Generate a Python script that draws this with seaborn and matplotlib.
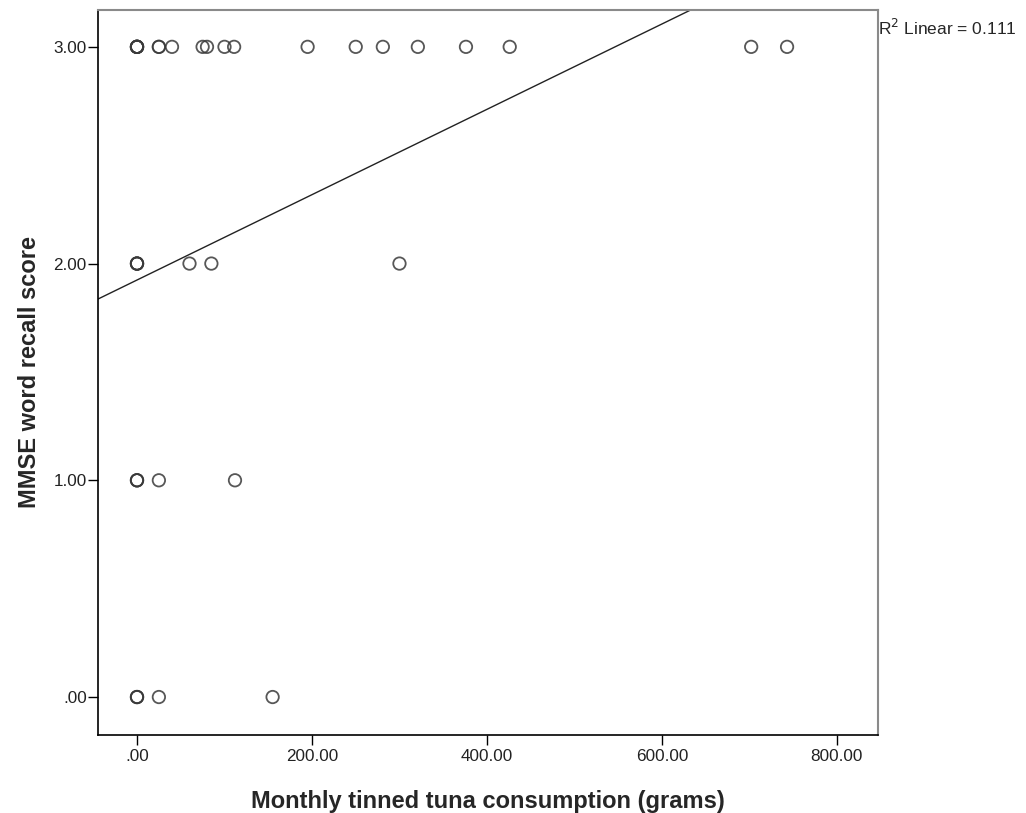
import numpy as np
import pandas as pd
import matplotlib
matplotlib.use('Agg')
import matplotlib.pyplot as plt
import seaborn as sns

# tuna consumption (grams/month) for each recall score, repeated values are overlapping circles
tuna_3 = [0, 0, 0, 0, 0, 0, 25, 25, 40, 75, 80, 100, 111, 195, 250, 281, 321, 376, 426, 702, 743]
tuna_2 = [0, 0, 0, 0, 60, 85, 300]
tuna_1 = [0, 0, 0, 25, 112]
tuna_0 = [0, 0, 0, 25, 155]

x_ticks = [0, 200, 400, 600, 800]
y_ticks = [0, 1, 2, 3]

df = pd.DataFrame({
    'tuna': tuna_3 + tuna_2 + tuna_1 + tuna_0,
    'recall': [3] * len(tuna_3) + [2] * len(tuna_2) + [1] * len(tuna_1) + [0] * len(tuna_0),
})

sns.set_style('white')
plt.rcParams['font.family'] = ['Liberation Sans', 'DejaVu Sans']

fig = plt.figure(figsize=(10.26, 8.13), dpi=100)
ax = fig.add_axes([0.0955, 0.096, 0.7603, 0.8917])
ax.set_xlim(-44.6, 847)
ax.set_ylim(-0.175, 3.17)

sns.regplot(data=df, x='tuna', y='recall', ax=ax, ci=None, truncate=False,
            scatter_kws={'s': 80, 'facecolors': 'none', 'edgecolors': '#3a3a3a',
                         'linewidths': 1.3, 'alpha': 0.85},
            line_kws={'color': '#222222', 'lw': 1.0})

ax.set_xlim(-44.6, 847)
ax.set_ylim(-0.175, 3.17)

fmt = lambda v: f'{v:.2f}'.lstrip('0') if v < 1 else f'{v:.2f}'
ax.set_xticks(x_ticks)
ax.set_xticklabels([fmt(v) for v in x_ticks])
ax.set_yticks(y_ticks)
ax.set_yticklabels([fmt(v) for v in y_ticks])
ax.tick_params(axis='both', direction='out', length=7, width=1, color='black',
               labelsize=12.3, labelcolor='#222222', bottom=True, left=True, pad=1)
ax.tick_params(axis='x', pad=3)

for s in ['left', 'bottom']:
    ax.spines[s].set_color('black')
    ax.spines[s].set_linewidth(1.2)
for s in ['top', 'right']:
    ax.spines[s].set_color('#8a8a8a')
    ax.spines[s].set_linewidth(1.5)

ax.set_xlabel('Monthly tinned tuna consumption (grams)', fontsize=17, fontweight='bold', labelpad=19)
ax.set_ylabel('MMSE word recall score', fontsize=17, fontweight='bold', labelpad=9)

r2 = np.corrcoef(df['tuna'], df['recall'])[0, 1] ** 2
fig.text(0.856, 0.966, f'R$^2$ Linear = {r2:.3f}', fontsize=12.5, ha='left', va='center')

fig.savefig('out.png', dpi=100)
